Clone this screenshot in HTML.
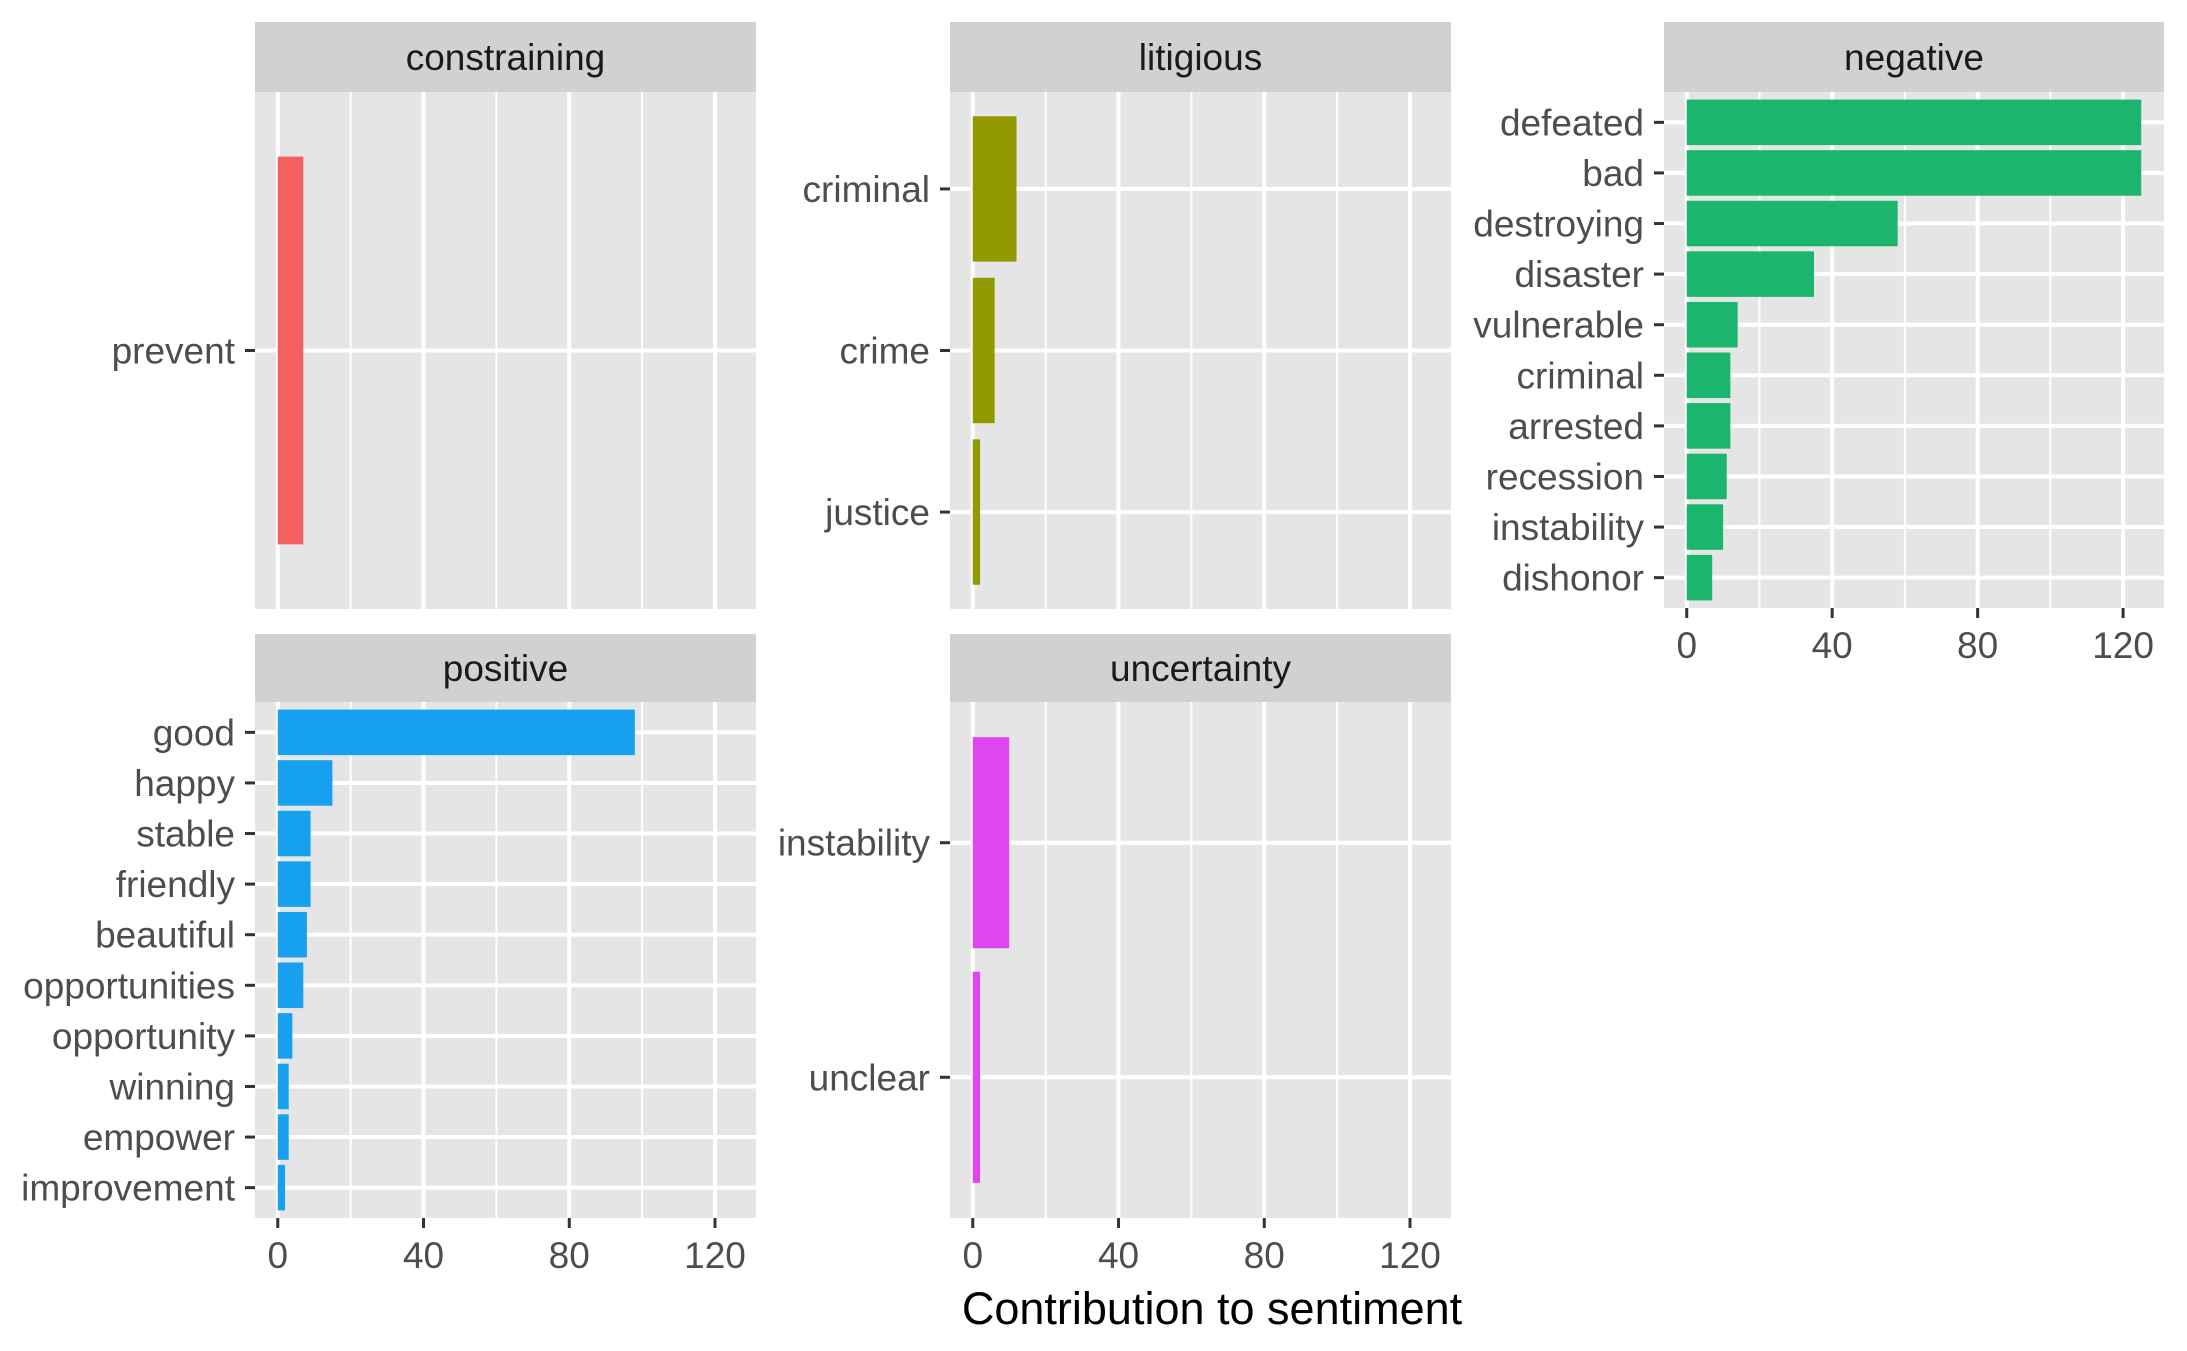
<!DOCTYPE html>
<html><head><meta charset="utf-8"><style>
html,body{margin:0;padding:0;background:#fff;}
svg{display:block;font-family:"Liberation Sans",Arial,sans-serif;}
</style></head><body>
<svg id="chart" width="2187" height="1351" viewBox="0 0 2187 1351" xmlns="http://www.w3.org/2000/svg">
<rect width="2187" height="1351" fill="#fff"/>
<text x="1212" y="1324" font-size="45" text-anchor="middle" fill="#000">Contribution to sentiment</text>
</svg>
<script>
const constrainingWords = ["prevent"];
const constrainingValues = [7];
const litigiousWords = ["criminal","crime","justice"];
const litigiousValues = [12,6,2];
const negativeWords = ["defeated","bad","destroying","disaster","vulnerable","criminal","arrested","recession","instability","dishonor"];
const negativeValues = [125,125,58,35,14,12,12,11,10,7];
const positiveWords = ["good","happy","stable","friendly","beautiful","opportunities","opportunity","winning","empower","improvement"];
const positiveValues = [98,15,9,9,8,7,4,3,3,2];
const uncertaintyWords = ["instability","unclear"];
const uncertaintyValues = [10,2];
const xTicks = [0,40,80,120];
const xMinor = [20,60,100];

const NS = "http://www.w3.org/2000/svg";
const svg = document.getElementById("chart");
function mk(tag, attrs, parent){const e=document.createElementNS(NS,tag);for(const k in attrs)e.setAttribute(k,attrs[k]);(parent||svg).appendChild(e);return e;}

const xmax = Math.max(...negativeValues, ...positiveValues);
const panels = [
 {name:"constraining",words:constrainingWords,vals:constrainingValues,fill:"#F26060",x0:255,x1:756,sy:22,py0:92,py1:609,axis:false},
 {name:"litigious",words:litigiousWords,vals:litigiousValues,fill:"#939A00",x0:950,x1:1451,sy:22,py0:92,py1:609,axis:false},
 {name:"negative",words:negativeWords,vals:negativeValues,fill:"#1BB56D",x0:1664,x1:2164,sy:22,py0:92,py1:608,axis:true},
 {name:"positive",words:positiveWords,vals:positiveValues,fill:"#17A0F0",x0:255,x1:756,sy:634,py0:702,py1:1218,axis:true},
 {name:"uncertainty",words:uncertaintyWords,vals:uncertaintyValues,fill:"#E046F0",x0:950,x1:1451,sy:634,py0:702,py1:1218,axis:true}
];

panels.forEach(p=>{
  const g = mk("g",{});
  
  
  const lo=-xmax*0.05, hi=xmax*1.05;
  const xs = v => p.x0 + (v-lo)/(hi-lo)*(p.x1-p.x0);
  const n = p.words.length;
  const unit = (p.py1-p.py0)/(n-1+1.2);
  const ys = i => p.py0 + (0.6+i)*unit;
  const strip = mk("rect",{x:p.x0,y:p.sy,width:p.x1-p.x0,height:p.py0-p.sy,fill:"#D1D1D1"},g);
  
  
  const st = mk("text",{x:(p.x0+p.x1)/2,y:(p.sy+p.py0)/2+13,"font-size":"37","text-anchor":"middle",fill:"#1A1A1A"},g);
  st.textContent=p.name;
  
  
  const bg = mk("rect",{x:p.x0,y:p.py0,width:p.x1-p.x0,height:p.py1-p.py0,fill:"#E5E5E5"},g);
  
  
  xMinor.forEach(v=>{const l=mk("line",{x1:xs(v),x2:xs(v),y1:p.py0,y2:p.py1,stroke:"#fff","stroke-width":"2"},g);
    
    });
  xTicks.forEach(v=>{const l=mk("line",{x1:xs(v),x2:xs(v),y1:p.py0,y2:p.py1,stroke:"#fff","stroke-width":"4"},g);
    
    });
  p.words.forEach((w,i)=>{
    const y=ys(i);
    const l=mk("line",{x1:p.x0,x2:p.x1,y1:y,y2:y,stroke:"#fff","stroke-width":"4"},g);
    
    
    const b=mk("rect",{x:xs(0),y:y-0.45*unit,width:xs(p.vals[i])-xs(0),height:0.9*unit,fill:p.fill},g);
    
    
    const tk=mk("line",{x1:p.x0-10,x2:p.x0,y1:y,y2:y,stroke:"#333","stroke-width":"3"},g);
    
    
    const t=mk("text",{x:p.x0-20,y:y+13,"font-size":"37","text-anchor":"end",fill:"#4D4D4D"},g);
    t.textContent=w;
    
    
  });
  if(p.axis){
    xTicks.forEach(v=>{
      const tk=mk("line",{x1:xs(v),x2:xs(v),y1:p.py1,y2:p.py1+10,stroke:"#333","stroke-width":"3"},g);
      
      
      const t=mk("text",{x:xs(v),y:p.py1+50,"font-size":"37","text-anchor":"middle",fill:"#4D4D4D"},g);
      t.textContent=String(v);
      
      
    });
  }
});
</script>
</body></html>
